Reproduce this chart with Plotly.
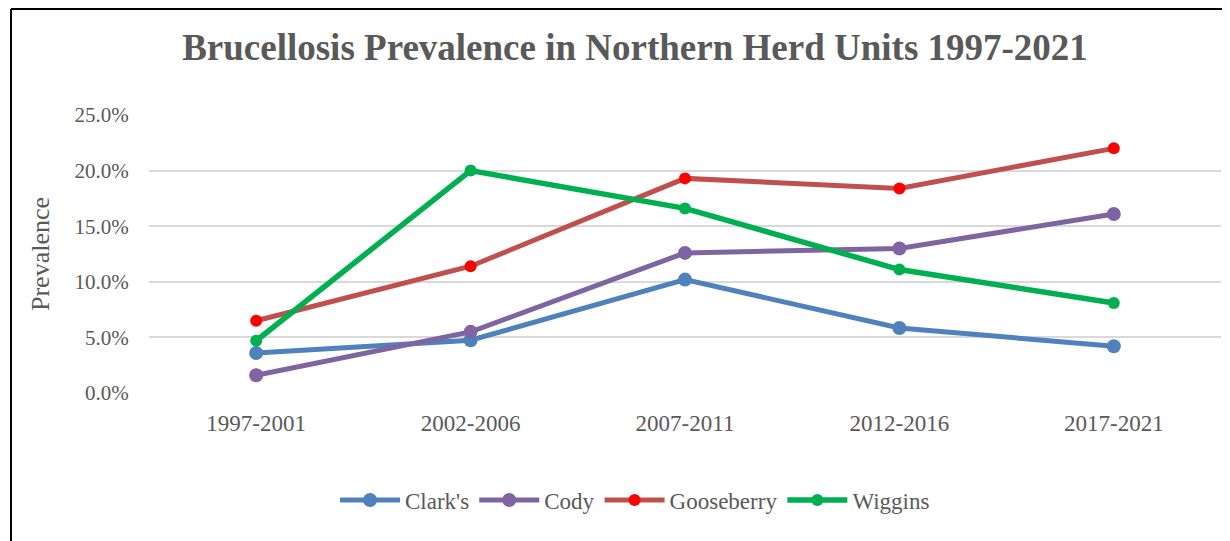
import plotly.graph_objects as go

periods = ["1997-2001", "2002-2006", "2007-2011", "2012-2016", "2017-2021"]
clarks = [0.036, 0.0475, 0.102, 0.0585, 0.042]
cody = [0.016, 0.055, 0.126, 0.130, 0.161]
gooseberry = [0.065, 0.114, 0.193, 0.184, 0.220]
wiggins = [0.047, 0.200, 0.166, 0.111, 0.081]
y_ticks = [0, 0.05, 0.10, 0.15, 0.20, 0.25]

FONT = "Liberation Serif, Times New Roman, serif"
GREY = "#595959"

# page body has an 8px margin: screen px -> paper coords
def px_x(px):
    return (px - 149) / 1072

def px_y(py):
    return (393 - py) / 278

fig = go.Figure()
series = [
    ("Clark's", clarks, "#4F81BD", "#4F81BD", 14, 5),
    ("Cody", cody, "#8064A2", "#8064A2", 14, 5),
    ("Gooseberry", gooseberry, "#C0504D", "#FF0000", 12, 5),
    ("Wiggins", wiggins, "#00B050", "#00B050", 12, 5.5),
]
for name, vals, lc, mc, ms, lw in series:
    fig.add_trace(go.Scatter(
        x=periods, y=vals, name=name, mode="lines+markers",
        line=dict(color=lc, width=lw),
        marker=dict(color=mc, size=ms),
    ))

fig.update_layout(
    width=1222, height=533,
    margin=dict(l=141, r=9, t=107, b=148),
    paper_bgcolor="white", plot_bgcolor="white",
    font=dict(family=FONT, color=GREY, size=21),
    title=dict(text="<b>Brucellosis Prevalence in Northern Herd Units 1997-2021</b>",
               x=627 / 1222, xref="container", xanchor="center",
               y=1 - 39 / 533, yref="container", yanchor="middle",
               font=dict(family=FONT, size=37, color=GREY)),
    showlegend=True,
    legend=dict(orientation="h", x=px_x(635), xanchor="center", y=px_y(500), yanchor="middle",
                font=dict(family=FONT, size=23, color=GREY), itemwidth=60,
                traceorder="normal"),
    xaxis=dict(type="category", range=[-0.5, 4.5], showgrid=False, showline=False,
               zeroline=False, ticks="outside", ticklen=9, tickcolor="rgba(0,0,0,0)",
               tickfont=dict(family=FONT, size=23, color=GREY), fixedrange=True),
    yaxis=dict(range=[0, 0.25], tickvals=y_ticks, tickformat=".1%",
               showgrid=True, gridcolor="#D9D9D9", gridwidth=1.5,
               zeroline=False, showline=False, ticks="outside", ticklen=15,
               tickcolor="rgba(0,0,0,0)",
               tickfont=dict(family=FONT, size=21, color=GREY), fixedrange=True),
    annotations=[dict(text="Prevalence", xref="paper", yref="paper",
                      x=px_x(40), y=0.5, xanchor="center", yanchor="middle",
                      textangle=-90, showarrow=False,
                      font=dict(family=FONT, size=26, color=GREY))],
    shapes=[
        dict(type="line", xref="paper", yref="paper",
             x0=px_x(11), x1=px_x(11), y0=px_y(9), y1=px_y(560),
             line=dict(color="black", width=2)),
        dict(type="line", xref="paper", yref="paper",
             x0=px_x(11), x1=px_x(1240), y0=px_y(9), y1=px_y(9),
             line=dict(color="black", width=2)),
    ],
)

fig.write_html("out.html")
